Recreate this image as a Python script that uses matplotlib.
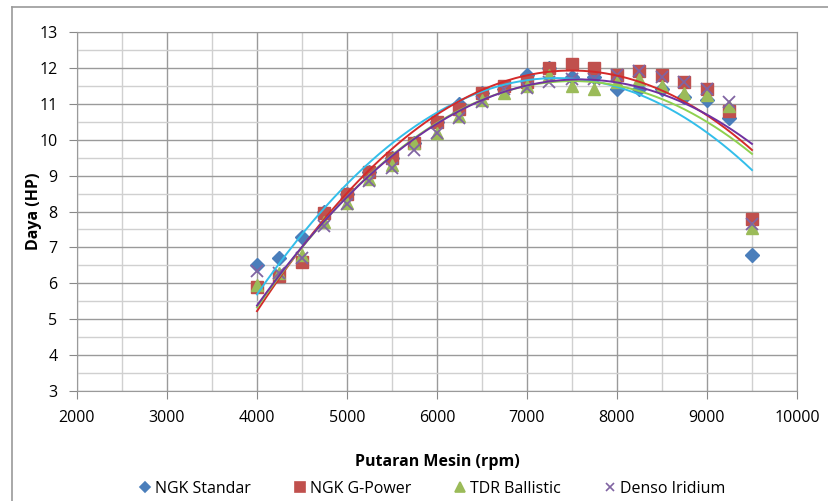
import numpy as np
import matplotlib; matplotlib.use('Agg')
import matplotlib.pyplot as plt
from matplotlib.lines import Line2D

plt.rcParams.update({'font.family': ['Open Sans', 'DejaVu Sans'], 'font.size': 11})

rpm = [4000, 4250, 4500, 4750, 5000, 5250, 5500, 5750, 6000, 6250, 6500, 6750,
       7000, 7250, 7500, 7750, 8000, 8250, 8500, 8750, 9000, 9250, 9500]
ngk_standar = [6.5, 6.7, 7.3, 8.0, 8.5, 9.1, 9.5, 9.9, 10.5, 11.0, 11.3, 11.4,
               11.8, 12.0, 11.75, 11.75, 11.4, 11.4, 11.4, 11.2, 11.1, 10.6, 6.8]
ngk_gpower = [5.9, 6.2, 6.6, 7.95, 8.5, 9.1, 9.5, 9.9, 10.5, 10.85, 11.3, 11.5,
              11.6, 12.0, 12.1, 12.0, 11.8, 11.9, 11.8, 11.6, 11.4, 10.8, 7.8]
tdr_ballistic = [5.95, 6.3, 6.8, 7.7, 8.25, 8.9, 9.3, 9.9, 10.2, 10.65, 11.1, 11.3,
                 11.5, 11.8, 11.5, 11.4, 11.6, 11.7, 11.5, 11.3, 11.25, 10.95, 7.55]
denso_iridium = [6.35, 6.3, 6.7, 7.6, 8.2, 8.85, 9.2, 9.7, 10.2, 10.6, 11.05, 11.4,
                 11.45, 11.6, 11.7, 11.7, 11.8, 11.9, 11.75, 11.6, 11.4, 11.05, 7.65]
labels = ['NGK Standar', 'NGK G-Power', 'TDR Ballistic', 'Denso Iridium']

series = [ngk_standar, ngk_gpower, tdr_ballistic, denso_iridium]
mcol = ['#4A7EBB', '#C0504D', '#9BBB59', '#8064A2']
tcol = ['#33BEEA', '#D42A2A', '#8FD14F', '#7030A0']
mk = ['D', 's', '^', 'x']
ms = [7, 9, 9, 8]

fig = plt.figure(figsize=(8.29, 5.01), dpi=100)
ax = fig.add_axes([77/829, 1-391/501, (797-77)/829, (391-32)/501])

xx = np.linspace(4000, 9500, 200)
for y, mc, m, s in zip(series, mcol, mk, ms):
    if m == 'x':
        ax.plot(rpm, y, ls='none', marker=m, ms=s, color=mc, mew=1.3, zorder=3)
    else:
        ax.plot(rpm, y, ls='none', marker=m, ms=s, color=mc, mec=mc, zorder=3)
# 2nd order polynomial trendlines
for y, tc in zip(series, tcol):
    c = np.polyfit(rpm, y, 2)
    ax.plot(xx, np.polyval(c, xx), color=tc, lw=1.4, zorder=4)

ax.set_xlim(2000, 10000); ax.set_ylim(3, 13)
ax.set_xticks(range(2000, 10001, 1000)); ax.set_yticks(range(3, 14))
ax.set_xticks(range(2500, 10000, 1000), minor=True)
ax.set_yticks(np.arange(3.5, 13, 1), minor=True)
ax.grid(True, which='major', color='#9a9a9a', lw=1.0)
ax.grid(True, which='minor', color='#d0d0d0', lw=1.0)
ax.set_axisbelow(True)
ax.tick_params(which='major', direction='out', length=6, color='#888888', labelsize=11.5, pad=8)
ax.tick_params(which='minor', length=0)
for sp in ax.spines.values():
    sp.set_color('#9a9a9a')
ax.set_xlabel('Putaran Mesin (rpm)', fontweight='bold', fontsize=11.5, labelpad=20)
ax.set_ylabel('Daya (HP)', fontweight='bold', fontsize=11.5, labelpad=-2)

handles = [Line2D([], [], ls='none', marker=m, color=c, ms=s*0.8, mew=1.2) for m, c, s in zip(mk, mcol, ms)]
fig.legend(handles, labels, loc='lower center', bbox_to_anchor=(0.52, -0.02), ncol=4, frameon=False,
           fontsize=11.5, handletextpad=0.1, columnspacing=2.6, handlelength=1.0)

# chart border (top and left)
fig.add_artist(Line2D([12/829, 12/829], [0, 1-7/501], color='#9a9a9a', lw=1.2))
fig.add_artist(Line2D([12/829, 1], [1-7/501, 1-7/501], color='#9a9a9a', lw=1.2))

fig.savefig('out.png', dpi=100, facecolor='white')
